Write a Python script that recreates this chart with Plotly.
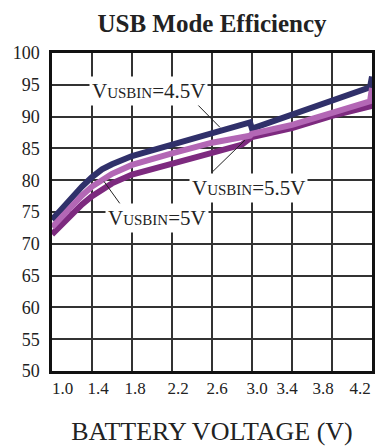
import plotly.graph_objects as go

# ---- data ----
x_45 = [1.0, 1.1, 1.2, 1.3, 1.4, 1.5, 1.6, 1.8, 2.0, 2.2, 2.6, 2.98, 3.0, 3.4, 3.8, 4.18, 4.2]
y_45 = [73.8, 75.6, 77.3, 79.0, 80.5, 81.7, 82.5, 83.8, 84.7, 85.6, 87.4, 89.1, 88.1, 90.3, 92.4, 94.6, 96.3]

x_50 = [1.0, 1.1, 1.2, 1.3, 1.4, 1.5, 1.6, 1.8, 2.0, 2.2, 2.6, 2.98, 3.0, 3.4, 3.8, 4.18, 4.2]
y_50 = [72.6, 74.3, 76.0, 77.6, 79.0, 80.1, 81.0, 82.4, 83.4, 84.2, 85.9, 87.0, 87.3, 88.7, 90.6, 92.4, 94.5]

x_55 = [1.0, 1.1, 1.2, 1.3, 1.4, 1.5, 1.6, 1.8, 2.0, 2.2, 2.6, 2.9, 3.0, 3.4, 3.8, 4.18, 4.2]
y_55 = [71.5, 73.1, 74.7, 76.2, 77.5, 78.6, 79.5, 80.9, 81.8, 82.6, 84.3, 85.6, 86.8, 88.2, 90.1, 91.6, 93.0]

x_tick_labels = ["1.0", "1.4", "1.8", "2.2", "2.6", "3.0", "3.4", "3.8", "4.2"]
x_grid = [1.0, 1.4, 1.8, 2.2, 2.6, 3.0, 3.4, 3.8, 4.2]
y_ticks = [50, 55, 60, 65, 70, 75, 80, 85, 90, 95, 100]

# label placement (as drawn in the reference, labels slightly compressed)
x_label_pos = [1.105, 1.46, 1.83, 2.26, 2.65, 3.05, 3.35, 3.71, 4.08]

NAVY = "#30306a"
PINK = "#b367b5"
PURPLE = "#7d2a7f"

# page body has an 8px default margin -> size the figure to the visible area
OFF = 8
W, H = 385 - OFF, 446 - OFF

fig = go.Figure()
fig.add_trace(go.Scatter(x=x_45, y=y_45, mode="lines", line=dict(color=NAVY, width=6), name="4.5V"))
fig.add_trace(go.Scatter(x=x_55, y=y_55, mode="lines", line=dict(color=PURPLE, width=6), name="5.5V"))
fig.add_trace(go.Scatter(x=x_50, y=y_50, mode="lines", line=dict(color=PINK, width=6), name="5V"))

def lab(v):
    return ("V<span style='font-size:15px'>USBIN</span>=" + v)

labels = [
    # text, label x, label y, pointer start, pointer end
    (lab("4.5V"), 1.96, 94.0, (2.41, 92.6), (2.68, 88.3)),
    (lab("5V"), 2.05, 74.1, (1.68, 76.3), (1.52, 79.8)),
    (lab("5.5V"), 2.96, 78.7, (2.61, 81.4), (2.93, 86.3)),
]
for text, lx, ly, p0, p1 in labels:
    fig.add_shape(type="line", x0=p0[0], y0=p0[1], x1=p1[0], y1=p1[1],
                  xref="x", yref="y", line=dict(color="#222", width=1))
    fig.add_annotation(x=lx, y=ly, xref="x", yref="y", text=text, showarrow=False,
                       bgcolor="white", borderpad=2,
                       font=dict(family="Liberation Serif", size=21, color="#222"))

fig.update_layout(
    template="none",
    width=W, height=H,
    margin=dict(l=52 - OFF, r=385 - 372, t=53 - OFF, b=446 - 371, autoexpand=False),
    paper_bgcolor="white", plot_bgcolor="white",
    showlegend=False,
    title=dict(text="<b>USB Mode Efficiency</b>", x=(212 - OFF) / W, xref="container", xanchor="center",
               y=1 - (23 - OFF) / H, yref="container", yanchor="middle",
               font=dict(family="Liberation Serif", size=25, color="#222")),
    font=dict(family="Liberation Serif", color="#222"),
)

fig.update_xaxes(
    range=[1.0, 4.2], automargin=False,
    tickvals=x_label_pos, ticktext=x_tick_labels,
    tickfont=dict(size=17, color="#222"),
    ticks="", showgrid=False, zeroline=False,
    minor=dict(tickvals=x_grid, showgrid=True, gridcolor="#333", gridwidth=1.5, ticks=""),
    showline=True, linecolor="#111", linewidth=2.5, mirror=True,
    title=dict(text="BATTERY VOLTAGE (V)", font=dict(size=26, color="#222"), standoff=26),
)
fig.update_yaxes(
    range=[50, 100], automargin=False,
    tickvals=y_ticks,
    tickfont=dict(size=18, color="#222"),
    ticks="", showgrid=True, gridcolor="#333", gridwidth=1.5, zeroline=False,
    showline=True, linecolor="#111", linewidth=2.5, mirror=True,
    ticklabelstandoff=6,
)

fig.write_html("out.html")
